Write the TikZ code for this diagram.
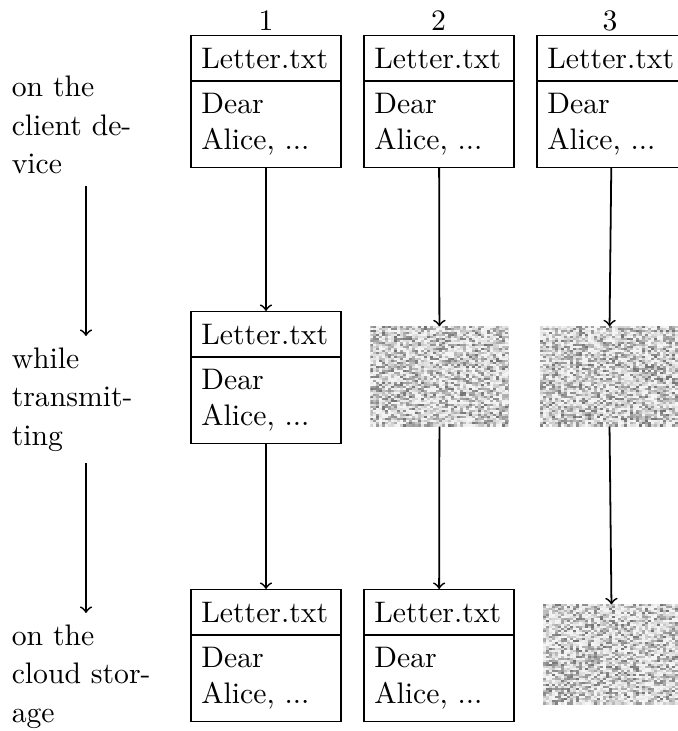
\documentclass[tikz,border=0pt]{standalone}
\usetikzlibrary{shapes.multipart}

% Fills the inside of a named node with random grey speckles
\newcommand\noisepatch[1]{%
  \begin{scope}
    \clip (#1.north west) rectangle (#1.south east);
    \begin{scope}[shift={(#1.north west)}]
      \foreach \i in {0,...,46}{
        \foreach \j in {0,...,49}{
          \pgfmathsetmacro\gv{int(4+52*rnd^2)}
          \fill[black!\gv] (3*\i,2*\j) rectangle ++(3.2,2.2);
        }}
    \end{scope}
  \end{scope}}

\begin{document}
\begin{tikzpicture}[x=0.3367pt,y=-0.3367pt,
  filebox/.style={rectangle split, rectangle split parts=2, draw,
    text width=43.5pt, inner xsep=3.5pt, inner ysep=3.98pt,
    align=left, anchor=north},
  noisebox/.style={minimum width=46.13pt, minimum height=33.33pt, inner sep=0pt},
  phase/.style={text width=50pt, align=left, inner xsep=0pt, inner ysep=3.7pt,
    font=\fontsize{10}{13}\selectfont, anchor=north},
  colnum/.style={anchor=base, inner sep=0pt},
  flow/.style={->, semithick}]
\useasboundingbox (0,0) rectangle (678,731);
\pgfmathsetseed{4711}

% column numbers
\node[colnum] (k1) at (266,30) {1};
\node[colnum] (k2) at (438.5,30) {2};
\node[colnum] (k3) at (610,30) {3};

% phases on the left
\node[phase] (p1) at (86,64.5) {on the\\client de-\\vice};
\node[phase] (p2) at (86,336) {while\\transmit-\\ting};
\node[phase] (p3) at (86,613) {on the\\cloud stor-\\age};

% plain files
\node[filebox] (f11) at (266,35) {Letter.txt\nodepart{two}Dear\\Alice, ...};
\node[filebox] (f12) at (439,35) {Letter.txt\nodepart{two}Dear\\Alice, ...};
\node[filebox] (f13) at (612,35) {Letter.txt\nodepart{two}Dear\\Alice, ...};
\node[filebox] (f21) at (266,311) {Letter.txt\nodepart{two}Dear\\Alice, ...};
\node[filebox] (f31) at (266,589) {Letter.txt\nodepart{two}Dear\\Alice, ...};
\node[filebox] (f32) at (439,589) {Letter.txt\nodepart{two}Dear\\Alice, ...};

% encrypted data
\node[noisebox] (n22) at (439.5,376.5) {};
\node[noisebox] (n23) at (609,376.5) {};
\node[noisebox] (n33) at (612,654.5) {};
\noisepatch{n22}
\noisepatch{n23}
\noisepatch{n33}

% flow of the data
\draw[flow] (p1) -- (p2);
\draw[flow] (p2) -- (p3);
\draw[flow] (f11) -- (f21);
\draw[flow] (f21) -- (f31);
\draw[flow] (f12) -- (n22);
\draw[flow] (n22) -- (f32);
\draw[flow] (f13) -- (n23);
\draw[flow] (n23) -- (n33);
\end{tikzpicture}
\end{document}
